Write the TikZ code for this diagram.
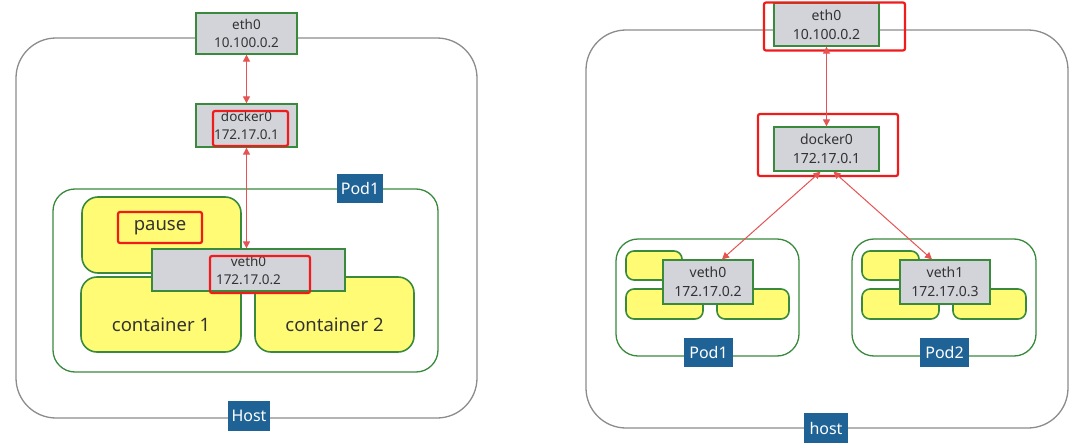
\documentclass[tikz,border=0pt]{standalone}
\usepackage{fontspec}
\setmainfont{Noto Sans}
\usetikzlibrary{arrows.meta}
\definecolor{ifgray}{HTML}{D3D4DA}
\definecolor{podgreen}{HTML}{3A8A3E}
\definecolor{ctryellow}{HTML}{FFFB74}
\definecolor{lblblue}{HTML}{1F6396}
\definecolor{linkred}{HTML}{E65353}
\definecolor{hlred}{HTML}{F01C1C}
\definecolor{hostgray}{HTML}{8C8C8C}
\definecolor{txt}{HTML}{333333}
\tikzset{
  hostbox/.style={draw=hostgray, line width=1.3pt, rounded corners=40pt, inner sep=0pt},
  podbox/.style={draw=podgreen, line width=1.3pt, rounded corners=22pt, inner sep=0pt},
  ctrbox/.style={draw=podgreen, fill=ctryellow, line width=1.6pt, rounded corners=16pt, inner sep=0pt},
  smallctr/.style={draw=podgreen, fill=ctryellow, line width=1.6pt, rounded corners=8pt, inner sep=0pt},
  iface/.style={draw=podgreen, fill=ifgray, line width=1.3pt, inner sep=0pt, align=center, text=txt, font=\fontsize{13.5}{18}\selectfont},
  hlbox/.style={draw=hlred, line width=2.2pt, rounded corners=2pt, inner sep=0pt},
  lblbox/.style={fill=lblblue, text=white, inner sep=0pt, font=\fontsize{16}{18}\selectfont},
  bigtext/.style={text=txt, inner sep=0pt, font=\fontsize{18.5}{20}\selectfont},
  link/.style={draw=linkred, line width=1pt, {Triangle[length=7pt,width=7pt]}-{Triangle[length=7pt,width=7pt]}}
}
\begin{document}
\begin{tikzpicture}[x=1pt,y=-1pt]
\useasboundingbox[fill=white] (0,0) rectangle (1080,447);
% ---------------- left panel ----------------
\node[hostbox, minimum width=461pt, minimum height=380pt] (hostL) at (246.5,228) {};
\node[podbox, minimum width=385pt, minimum height=183pt] (podL) at (245.5,280.5) {};
\node[ctrbox, minimum width=159pt, minimum height=76pt] (pauseL) at (161.5,235) {};
\node[ctrbox, minimum width=160pt, minimum height=75pt] (c1L) at (161,314.5) {};
\node[ctrbox, minimum width=159pt, minimum height=75pt] (c2L) at (334.5,314.5) {};
\node[bigtext] (c1txt) at (161,325) {container 1};
\node[bigtext] (c2txt) at (334.5,325) {container 2};
\node[iface, minimum width=101pt, minimum height=41pt] (eth0L) at (246.5,33.5) {eth0\\10.100.0.2};
\node[iface, minimum width=101pt, minimum height=43pt] (docker0L) at (246.5,125.5) {docker0\\172.17.0.1};
\node[iface, minimum width=193pt, minimum height=42pt] (veth0L) at (248.5,270) {veth0\\172.17.0.2};
\node[hlbox, minimum width=75pt, minimum height=35pt] (hlDockL) at (250.5,128.5) {};
\node[hlbox, minimum width=84pt, minimum height=31pt, bigtext] (hlPause) at (160,227.5) {pause};
\node[hlbox, minimum width=100pt, minimum height=37pt] (hlVethL) at (260,274.5) {};
\node[lblbox, minimum width=46pt, minimum height=29pt] (podLlbl) at (360,188.5) {Pod1};
\node[lblbox, minimum width=42pt, minimum height=30pt] (hostLlbl) at (249,416) {Host};
\draw[link] (eth0L.south) -- (docker0L.north);
\draw[link] (docker0L.south) -- (docker0L.south |- veth0L.north);
% ---------------- right panel ----------------
\node[hostbox, minimum width=482pt, minimum height=398pt] (hostR) at (827,229) {};
\node[podbox, minimum width=183pt, minimum height=117pt] (pod1R) at (707.5,297.5) {};
\node[podbox, minimum width=184pt, minimum height=117pt] (pod2R) at (944,297.5) {};
\node[smallctr, minimum width=56pt, minimum height=29pt] (p1a) at (654,265.5) {};
\node[smallctr, minimum width=77pt, minimum height=30pt] (p1b) at (664.5,304) {};
\node[smallctr, minimum width=72pt, minimum height=30pt] (p1c) at (753,304) {};
\node[smallctr, minimum width=57pt, minimum height=29pt] (p2a) at (890.5,265.5) {};
\node[smallctr, minimum width=77pt, minimum height=30pt] (p2b) at (900.5,304) {};
\node[smallctr, minimum width=73pt, minimum height=30pt] (p2c) at (989.5,304) {};
\node[iface, minimum width=105pt, minimum height=43pt, font=\fontsize{14}{19}\selectfont] (eth0R) at (826.5,24.5) {eth0\\10.100.0.2};
\node[iface, minimum width=105pt, minimum height=44pt, font=\fontsize{14}{19}\selectfont] (docker0R) at (826.5,149) {docker0\\172.17.0.1};
\node[iface, minimum width=90pt, minimum height=44pt, font=\fontsize{14}{19}\selectfont] (veth0R) at (708,282) {veth0\\172.17.0.2};
\node[iface, minimum width=90pt, minimum height=44pt, font=\fontsize{14}{19}\selectfont] (veth1R) at (945,282) {veth1\\172.17.0.3};
\node[hlbox, minimum width=141pt, minimum height=48pt] (hlEthR) at (834.5,26.5) {};
\node[hlbox, minimum width=140pt, minimum height=62pt] (hlDockR) at (828,145) {};
\node[lblbox, minimum width=49pt, minimum height=29pt] (pod1Rlbl) at (708.5,352.5) {Pod1};
\node[lblbox, minimum width=49pt, minimum height=29pt] (pod2Rlbl) at (944.5,352.5) {Pod2};
\node[lblbox, minimum width=44pt, minimum height=30pt] (hostRlbl) at (826,428) {host};
\draw[link] (eth0R.south) -- (docker0R.north);
\draw[link] ([xshift=-6pt]docker0R.south) -- ([xshift=14pt]veth0R.north);
\draw[link] ([xshift=7pt]docker0R.south) -- ([xshift=-13pt]veth1R.north);
\end{tikzpicture}
\end{document}
